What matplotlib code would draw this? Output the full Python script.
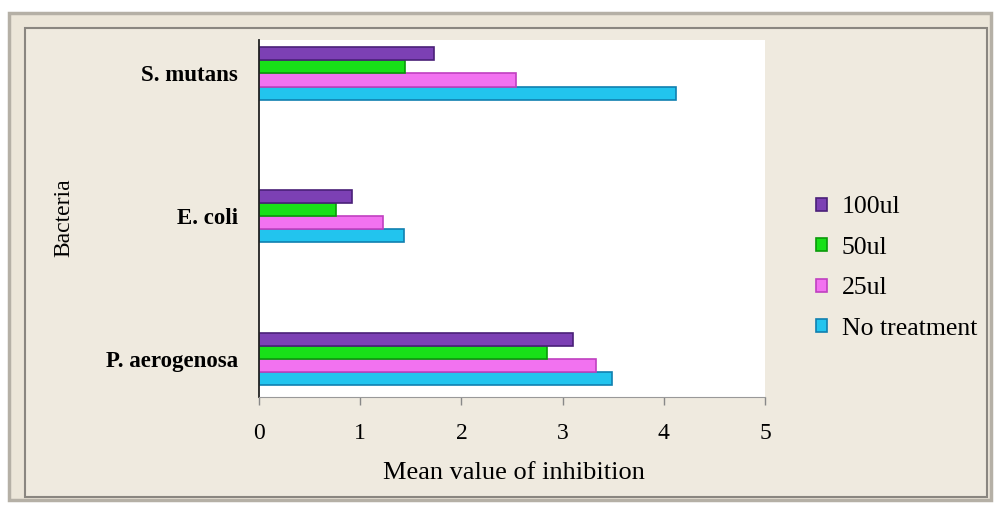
import matplotlib
matplotlib.use("Agg")
import matplotlib.pyplot as plt
from matplotlib.patches import Rectangle
import numpy as np

categories = ["P. aerogenosa", "E. coli", "S. mutans"]
series_names = ["No treatment", "25ul", "50ul", "100ul"]
no_treatment = [3.49, 1.43, 4.12]
ul25 = [3.33, 1.23, 2.54]
ul50 = [2.85, 0.76, 1.44]
ul100 = [3.10, 0.92, 1.73]
x_ticks = [0, 1, 2, 3, 4, 5]

series_values = [no_treatment, ul25, ul50, ul100]
face_colors = ["#22c4ee", "#f272f0", "#18e018", "#7c40b4"]
edge_colors = ["#1080b0", "#c040c0", "#0a9a0a", "#4a2078"]

W, H = 995, 507
fig = plt.figure(figsize=(W / 100, H / 100), dpi=100)
fig.patch.set_facecolor("white")
plt.rcParams['font.family'] = ['Liberation Serif', 'DejaVu Serif']

def px(x0, y0, x1, y1):
    return (x0 / W, 1 - y1 / H, (x1 - x0) / W, (y1 - y0) / H)

# outer beige frame
l, b, w, h = px(9, 13, 991, 500)
fig.patches.append(Rectangle((l, b), w, h, transform=fig.transFigure,
                             facecolor="#ece6d9", edgecolor="#b5b0a6", lw=2.5, zorder=-2))
l, b, w, h = px(25, 28, 987, 497)
fig.patches.append(Rectangle((l, b), w, h, transform=fig.transFigure,
                             facecolor="#efeadf", edgecolor="#8a8680", lw=1.5, zorder=-1))

ax = fig.add_axes(px(259, 40, 765, 397))
ax.set_zorder(2)
ax.set_facecolor("white")

y = np.arange(len(categories))
bh = 0.092
offsets = [-1.5 * bh, -0.5 * bh, 0.5 * bh, 1.5 * bh]
handles = []
for vals, name, fc, ec, off in zip(series_values, series_names, face_colors, edge_colors, offsets):
    bars = ax.barh(y + off, vals, height=bh, color=fc, edgecolor=ec, linewidth=1.2, label=name)
    handles.append(bars)

ax.set_xlim(0, 5)
ax.set_ylim(-0.266, 2.234)
ax.set_xticks(x_ticks)
ax.set_xticklabels([str(t) for t in x_ticks], fontsize=17)
ax.set_yticks(y)
ax.set_yticklabels(categories, fontsize=16.5, fontweight="bold")
ax.tick_params(axis='x', length=6, width=1, color="#888888", pad=13, direction='out')
ax.tick_params(axis='y', length=0, pad=15)
for s in ["top", "right"]:
    ax.spines[s].set_visible(False)
ax.spines["left"].set_color("#222222")
ax.spines["left"].set_linewidth(1.3)
ax.spines["bottom"].set_color("#999999")

fig.text(514 / W, 1 - 473 / H, "Mean value of inhibition", fontsize=19,
         ha="center", va="center")
fig.text(64 / W, 1 - 218 / H, "Bacteria", fontsize=17, rotation=90,
         ha="center", va="center")

leg = fig.legend(handles[::-1], series_names[::-1], loc="upper left",
                 bbox_to_anchor=(806 / W, 1 - 186 / H), frameon=False,
                 fontsize=18.5, handlelength=0.4, handleheight=0.4,
                 handletextpad=0.6, labelspacing=0.72, borderaxespad=0)

fig.savefig("out.png", dpi=100, facecolor=fig.get_facecolor())
